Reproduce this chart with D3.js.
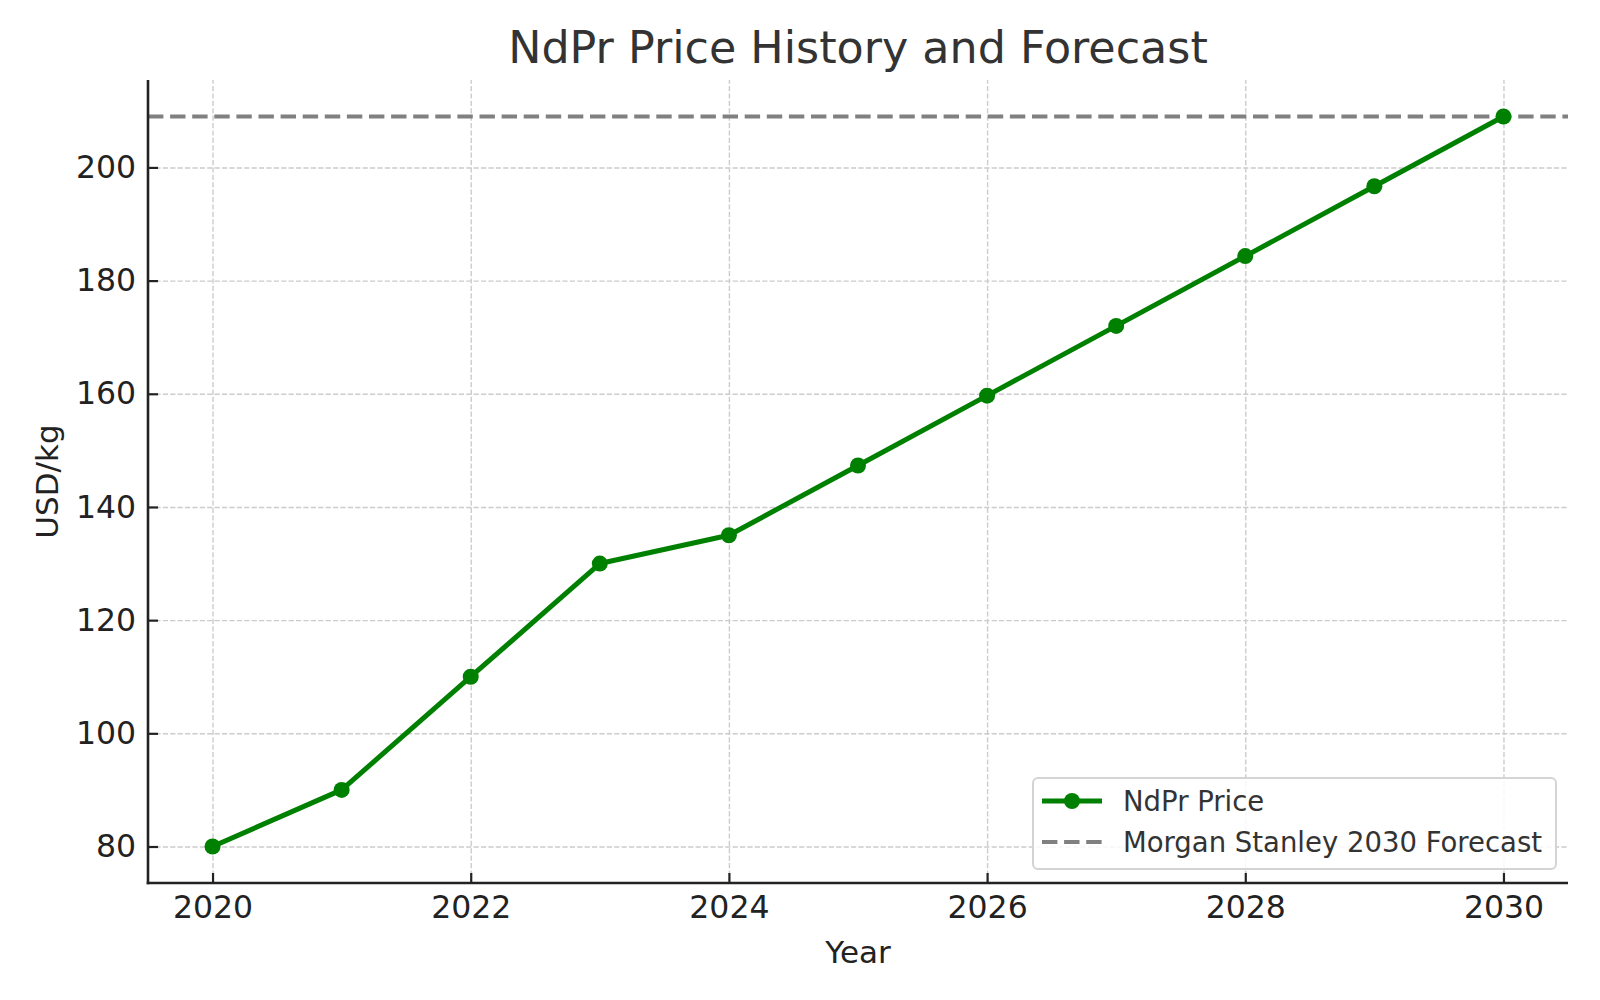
<!DOCTYPE html>
<html>
<head>
<meta charset="utf-8">
<script src="https://cdn.jsdelivr.net/npm/d3@7"></script>
<style>
  body { margin: 0; background: #fff; }
  text { font-family: "DejaVu Sans", sans-serif; }
</style>
</head>
<body>
<svg id="Graph"></svg>
<script>
// data
const years = [2020, 2021, 2022, 2023, 2024, 2025, 2026, 2027, 2028, 2029, 2030];
const prices = [80, 90, 110, 130, 135, 147.33, 159.67, 172, 184.33, 196.67, 209];
const forecast2030 = 209;
const xTicks = [2020, 2022, 2024, 2026, 2028, 2030];
const yTicks = [80, 100, 120, 140, 160, 180, 200];
const seriesNames = ["NdPr Price", "Morgan Stanley 2030 Forecast"];

const w = 1600;
const h = 1000;
const plotLeft = 148, plotRight = 1568, plotTop = 80, plotBottom = 883;

let svg = d3.select("#Graph")
    .attr("width", w)
    .attr("height", h);

//スケール
const xScale = d3.scaleLinear()
    .domain([2019.5, 2030.5])
    .range([plotLeft, plotRight]);
const yScale = d3.scaleLinear()
    .domain([73.55, 215.45])
    .range([plotBottom, plotTop]);

//グリッド
svg.append("g")
    .attr("transform", "translate(0," + plotBottom + ")")
    .call(d3.axisBottom(xScale).tickValues(xTicks).tickSize(-(plotBottom - plotTop)).tickFormat(""))
    .call(g => g.select(".domain").remove())
    .selectAll("line")
    .attr("stroke", "#cccccc")
    .attr("stroke-width", 1.4)
    .attr("stroke-dasharray", "5.2,2.2");
svg.append("g")
    .attr("transform", "translate(" + plotLeft + ",0)")
    .call(d3.axisLeft(yScale).tickValues(yTicks).tickSize(-(plotRight - plotLeft)).tickFormat(""))
    .call(g => g.select(".domain").remove())
    .selectAll("line")
    .attr("stroke", "#cccccc")
    .attr("stroke-width", 1.4)
    .attr("stroke-dasharray", "5.2,2.2");

//予測ライン
svg.append("line")
    .attr("x1", plotLeft)
    .attr("x2", plotRight)
    .attr("y1", yScale(forecast2030))
    .attr("y2", yScale(forecast2030))
    .attr("stroke", "#808080")
    .attr("stroke-width", 4.2)
    .attr("stroke-dasharray", "15.4,6.7");

//価格ライン
const line = d3.line()
    .x(function (d, i) { return xScale(years[i]); })
    .y(function (d) { return yScale(d); });
svg.append("path")
    .datum(prices)
    .attr("d", line)
    .attr("fill", "none")
    .attr("stroke", "#008000")
    .attr("stroke-width", 5)
    .attr("stroke-linejoin", "round");
svg.selectAll("circle.pt")
    .data(prices)
    .enter()
    .append("circle")
    .attr("class", "pt")
    .attr("cx", function (d, i) { return xScale(years[i]); })
    .attr("cy", function (d) { return yScale(d); })
    .attr("r", 8)
    .attr("fill", "#008000");

//軸
const xAxis = svg.append("g")
    .attr("transform", "translate(0," + plotBottom + ")")
    .call(d3.axisBottom(xScale).tickValues(xTicks).tickSizeInner(-10).tickSizeOuter(0)
        .tickPadding(13).tickFormat(d3.format("d")));
const yAxis = svg.append("g")
    .attr("transform", "translate(" + plotLeft + ",0)")
    .call(d3.axisLeft(yScale).tickValues(yTicks).tickSizeInner(-10).tickSizeOuter(0)
        .tickPadding(12).tickFormat(d3.format("d")));
[xAxis, yAxis].forEach(function (g) {
    g.select(".domain").attr("stroke", "#222").attr("stroke-width", 2.6);
    g.selectAll(".tick line").attr("stroke", "#222").attr("stroke-width", 2.2);
    g.selectAll(".tick text")
        .attr("font-size", "31.5px")
        .attr("fill", "#222")
        .style("font-family", "DejaVu Sans");
});
// 角を少し延長
xAxis.select(".domain").attr("d", "M" + (plotLeft - 1.3) + ",0H" + plotRight);
yAxis.select(".domain").attr("d", "M0," + 1.3 + "V" + (plotTop - plotBottom)).attr("transform", "translate(0," + plotBottom + ")");

//軸ラベル
svg.append("text")
    .attr("x", (plotLeft + plotRight) / 2)
    .attr("y", 963)
    .attr("text-anchor", "middle")
    .attr("font-size", "31px")
    .attr("fill", "#222")
    .text("Year");
svg.append("text")
    .attr("transform", "translate(58," + ((plotTop + plotBottom) / 2) + ") rotate(-90)")
    .attr("text-anchor", "middle")
    .attr("font-size", "31px")
    .attr("fill", "#222")
    .text("USD/kg");

//タイトル
svg.append("text")
    .attr("x", (plotLeft + plotRight) / 2)
    .attr("y", 63)
    .attr("text-anchor", "middle")
    .attr("font-size", "44.4px")
    .attr("fill", "#333")
    .text("NdPr Price History and Forecast");

//凡例
const legend = svg.append("g");
legend.append("rect")
    .attr("x", 1033)
    .attr("y", 778)
    .attr("width", 523)
    .attr("height", 91)
    .attr("rx", 5)
    .attr("fill", "white")
    .attr("fill-opacity", 0.85)
    .attr("stroke", "#d4d4d4")
    .attr("stroke-width", 2);
legend.append("line")
    .attr("x1", 1042).attr("x2", 1102)
    .attr("y1", 801).attr("y2", 801)
    .attr("stroke", "#008000")
    .attr("stroke-width", 5);
legend.append("circle")
    .attr("cx", 1072).attr("cy", 801).attr("r", 8)
    .attr("fill", "#008000");
legend.append("line")
    .attr("x1", 1042).attr("x2", 1102)
    .attr("y1", 842).attr("y2", 842)
    .attr("stroke", "#808080")
    .attr("stroke-width", 4.2)
    .attr("stroke-dasharray", "15.4,6.7");
legend.selectAll("text.lg")
    .data(seriesNames)
    .enter()
    .append("text")
    .attr("class", "lg")
    .attr("x", 1123)
    .attr("y", function (d, i) { return 811 + i * 41; })
    .attr("font-size", "27.5px")
    .attr("fill", "#333")
    .text(function (d) { return d; });
</script>
</body>
</html>
